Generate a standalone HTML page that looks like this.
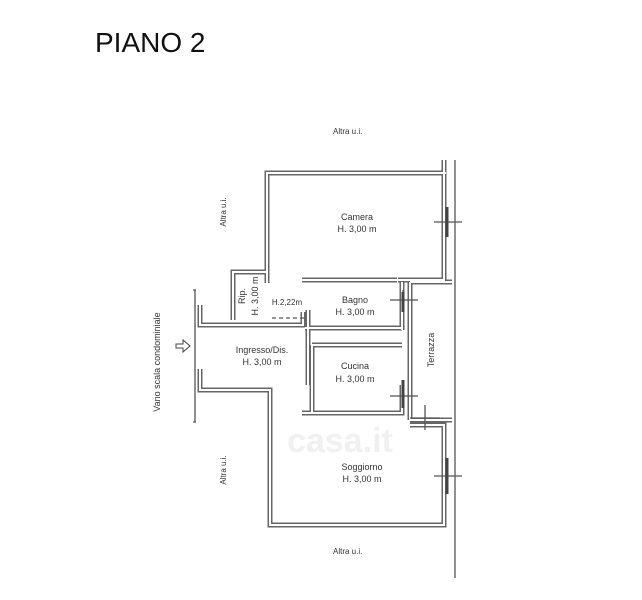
<!DOCTYPE html>
<html><head><meta charset="utf-8"><style>
body{margin:0;background:#fff;width:642px;height:600px;overflow:hidden}
svg{display:block}
text{font-family:"Liberation Sans",sans-serif;fill:#333}
</style></head><body>
<svg width="642" height="600" viewBox="0 0 642 600">
<text x="95" y="52" font-size="28" style="fill:#111">PIANO 2</text>
<text x="333" y="134" font-size="8">Altra u.i.</text>
<text x="333" y="554" font-size="8">Altra u.i.</text>
<text transform="translate(226,212) rotate(-90)" font-size="8" text-anchor="middle">Altra u.i.</text>
<text transform="translate(226,470) rotate(-90)" font-size="8" text-anchor="middle">Altra u.i.</text>
<text transform="translate(160,362) rotate(-90)" font-size="9" text-anchor="middle">Vano scala condominiale</text>
<g fill="none" stroke-linejoin="miter">
<g stroke="#666" stroke-width="5">
<path d="M444 160 V280 H398 M302 280 H397"/>
<path d="M267 283 V173 H446"/>
<path d="M233 320 V272 H267 V283"/>
<path d="M200 305 V325 H267 M260 325 H303 V312"/>
<path d="M200 369 V390 H270 V525 H444 V425 H410"/>
<path d="M302 413 H402 V385 M402 330 V282"/>
<path d="M410 282 H452 M410 282 V420 M410 420 H452"/>
<path d="M308 310 V385"/>
<path d="M312 345 V412 M312 345 H402"/>
<path d="M305 328 H402"/>
</g>
<g stroke="#fff" stroke-width="2">
<path d="M444 160 V280 H398 M302 280 H397"/>
<path d="M267 283 V173 H446"/>
<path d="M233 320 V272 H267 V283"/>
<path d="M200 305 V325 H267 M260 325 H303 V312"/>
<path d="M200 369 V390 H270 V525 H444 V425 H410"/>
<path d="M302 413 H402 V385 M402 330 V282"/>
<path d="M410 282 H452 M410 282 V420 M410 420 H452"/>
<path d="M308 310 V385"/>
<path d="M312 345 V412 M312 345 H402"/>
<path d="M305 328 H402"/>
</g>
<g stroke="#555" stroke-width="1.3">
<path d="M455 160 V578"/>
<path d="M195 290 V422 M193 290 H196 M193 422 H196"/>
<path d="M272 318 H305" stroke-dasharray="4 3"/>
<path d="M434 222 H462 M447 212 V232"/>
<path d="M390 300 H418 M403 290 V310"/>
<path d="M390 396 H418 M403 386 V406"/>
<path d="M410 418 H440 M425 405 V430"/>
<path d="M434 476 H462 M447 466 V486"/>
</g>
<g stroke="#444" stroke-width="3">
<path d="M447 207 V237 M447 458 V494 M403 292 V312 M403 380 V408"/>
</g>
<path d="M176 344 H183 V340 L190 346 L183 352 V348 H176 Z" stroke="#444" stroke-width="1"/>
</g>
<text x="357" y="220" font-size="9" text-anchor="middle">Camera</text>
<text x="357" y="232" font-size="9" text-anchor="middle">H. 3,00 m</text>
<text x="355" y="303" font-size="9" text-anchor="middle">Bagno</text>
<text x="355" y="315" font-size="9" text-anchor="middle">H. 3,00 m</text>
<text x="355" y="369" font-size="9" text-anchor="middle">Cucina</text>
<text x="355" y="382" font-size="9" text-anchor="middle">H. 3,00 m</text>
<text x="262" y="353" font-size="9" text-anchor="middle">Ingresso/Dis.</text>
<text x="262" y="365" font-size="9" text-anchor="middle">H. 3,00 m</text>
<text x="362" y="470" font-size="9" text-anchor="middle">Soggiorno</text>
<text x="362" y="482" font-size="9" text-anchor="middle">H. 3,00 m</text>
<text x="287" y="305" font-size="8" text-anchor="middle">H.2,22m</text>
<text transform="translate(434,350) rotate(-90)" font-size="9" text-anchor="middle">Terrazza</text>
<text transform="translate(245,296) rotate(-90)" font-size="9" text-anchor="middle">Rip.</text>
<text transform="translate(258,296) rotate(-90)" font-size="9" text-anchor="middle">H. 3,00 m</text>
<text x="340" y="452" font-size="34" font-weight="bold" text-anchor="middle" style="fill:#f0f0f0">casa.it</text>
</svg>
</body></html>
